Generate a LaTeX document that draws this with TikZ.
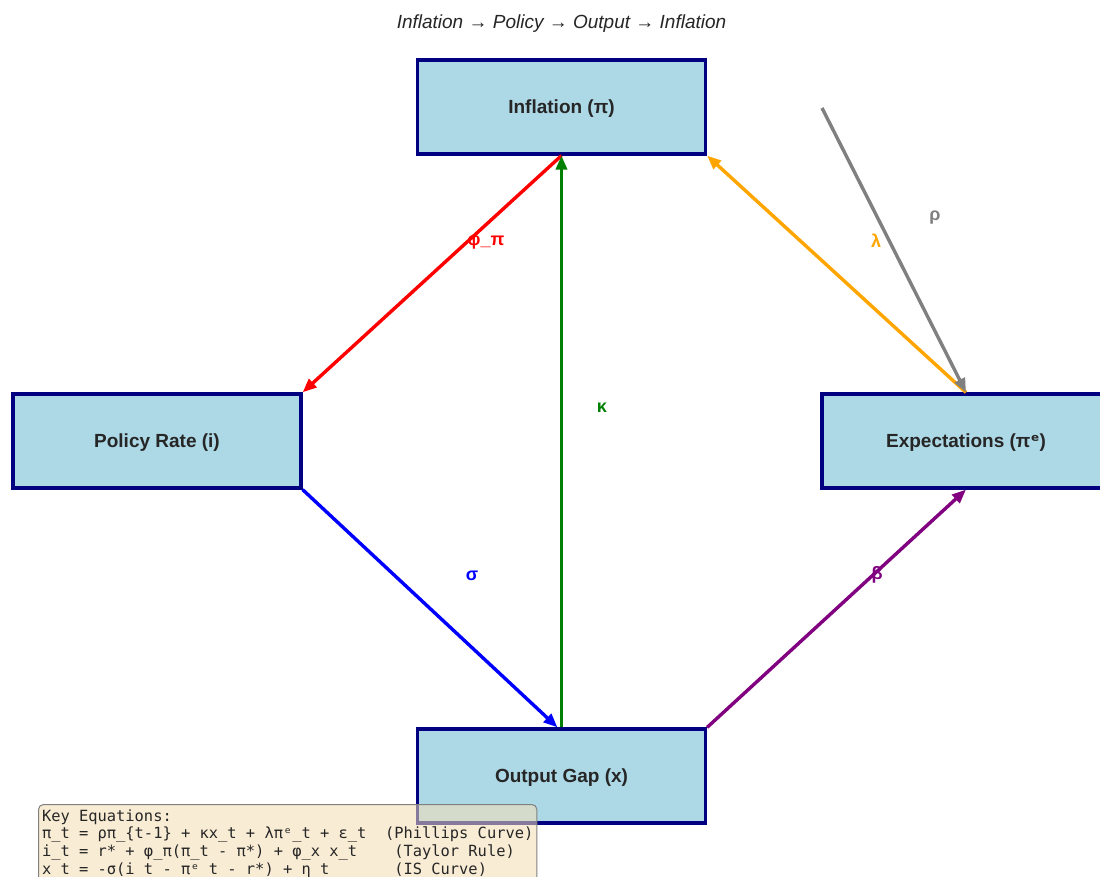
\documentclass[tikz,border=0pt]{standalone}
\usepackage{fontspec}
\setmainfont{Liberation Sans}
\newfontfamily\monofont{DejaVu Sans Mono}
\newfontfamily\dvsfont{DejaVu Sans}
\usetikzlibrary{arrows.meta}
\definecolor{boxfill}{RGB}{173,216,230}
\definecolor{boxline}{RGB}{0,0,128}
\definecolor{txt}{RGB}{38,38,38}
\definecolor{legfill}{RGB}{245,222,179}
\definecolor{cpurple}{RGB}{128,0,128}
\definecolor{corange}{RGB}{255,165,0}
\definecolor{cgreen}{RGB}{0,128,0}
\definecolor{cgray}{RGB}{128,128,128}
\begin{document}
\begin{tikzpicture}[x=1pt,y=-1pt,
  varbox/.style={draw=boxline, line width=3.2pt, fill=boxfill,
    minimum width=288pt, minimum height=94pt, inner sep=0pt, text=txt,
    text height=17pt, text depth=4pt,
    font=\fontsize{19}{22}\selectfont\bfseries},
  link/.style={line width=3.4pt, -{Triangle[length=14pt,width=11pt]}},
  coef/.style={font=\fontsize{18}{20}\selectfont\bfseries, inner sep=0pt},
]
\useasboundingbox (0,0) rectangle (1100,877);
\fill[white] (0,0) rectangle (1100,877);

% title
\node[text=txt, font=\fontsize{19}{21}\selectfont\itshape] (title) at (561.5,24)
  {Inflation → Policy → Output → Inflation};

% model variables
\node[varbox] (infl) at (561.5,107) {Inflation (π)};
\node[varbox] (pol)  at (157,441)   {Policy Rate (i)};
\node[varbox] (expc) at (966,441)   {Expectations (π{\dvsfont ᵉ})};
\node[varbox] (out)  at (561.5,776) {Output Gap (x)};

% transmission channels
\coordinate (persist) at (822,108);
\draw[link, red]     (infl.south) -- (pol.north east);
\draw[link, blue]    (pol.south east) -- ([xshift=-4pt]out.north);
\draw[link, cgreen]  (out.north) -- (infl.south);
\draw[link, cpurple] (out.north east) -- (expc.south);
\draw[link, corange] (expc.north) -- (infl.south east);
\draw[link, cgray]   (persist) -- (expc.north);

% coefficients
\node[coef, text=red]     (lphi)   at (486,243) {φ\_π};
\node[coef, text=blue]    (lsig)   at (472,576) {σ};
\node[coef, text=cgreen]  (lkap)   at (602,408) {κ};
\node[coef, text=cpurple] (lbeta)  at (877,575) {β};
\node[coef, text=corange] (llam)   at (876,241) {λ};
\node[coef, text=cgray]   (lrho)   at (935,218) {ρ};

% equations
\node[anchor=north west, draw=cgray, line width=1pt, rounded corners=5pt,
  fill=legfill, fill opacity=0.55, text opacity=1, text=txt,
  inner xsep=3.5pt, inner ysep=5pt, text depth=25pt,
  align=left, font=\monofont\fontsize{15.4}{17.6}\selectfont\frenchspacing]
  (eqs) at (38,804) {%
Key Equations:\\
π\_t = ρπ\_\{t-1\} + κx\_t + λπᵉ\_t + ε\_t\ \ (Phillips Curve)\\
i\_t = r* + φ\_π(π\_t - π*) + φ\_x x\_t\ \ \ \ (Taylor Rule)\\
x\_t = -σ(i\_t - πᵉ\_t - r*) + η\_t\ \ \ \ \ \ \ (IS Curve)};
\end{tikzpicture}
\end{document}
